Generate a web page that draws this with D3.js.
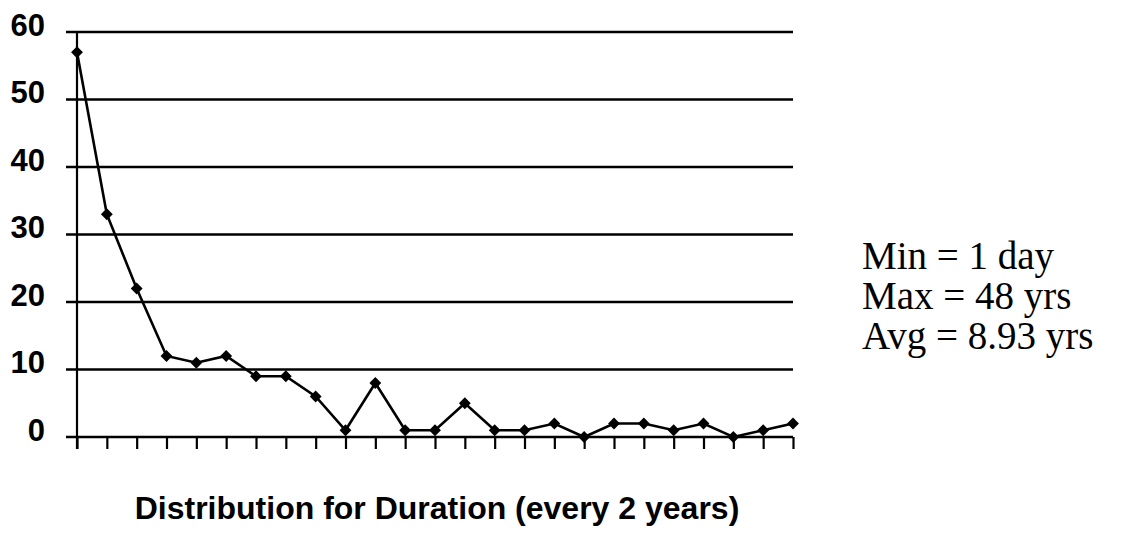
<!DOCTYPE html>
<html>
<head>
<meta charset="utf-8">
<script src="https://cdn.jsdelivr.net/npm/d3@7"></script>
<style>
  body { margin: 0; background: #fff; }
  svg { display: block; }
</style>
</head>
<body>
<svg id="chart" width="1134" height="553"></svg>
<script>
// counts per 2-year duration bucket
var counts = [57, 33, 22, 12, 11, 12, 9, 9, 6, 1, 8, 1, 1, 5, 1, 1, 2, 0, 2, 2, 1, 2, 0, 1, 2];
var yTicks = [0, 10, 20, 30, 40, 50, 60];
var statLines = ["Min = 1 day", "Max = 48 yrs", "Avg = 8.93 yrs"];
var title = "Distribution for Duration (every 2 years)";

var svg = d3.select("#chart"),
    margin = {top: 32, left: 77, right: 341, bottom: 116},
    width = +svg.attr("width") - margin.left - margin.right,
    height = +svg.attr("height") - margin.top - margin.bottom;

var x = d3.scaleLinear().domain([0, counts.length - 1]).range([0, width]);
var y = d3.scaleLinear().domain([0, 60]).range([height, 0]);

var g = svg.append("g")
    .attr("transform", "translate(" + margin.left + "," + margin.top + ")");

// horizontal gridlines (incl. the baseline)
g.selectAll("line.grid")
  .data(yTicks).enter()
  .append("line")
    .attr("class", "grid")
    .attr("x1", -11).attr("x2", width)
    .attr("y1", function(d){ return y(d); })
    .attr("y2", function(d){ return y(d); })
    .attr("stroke", "#000")
    .attr("stroke-width", 2.4);

// y axis
var yAxis = d3.axisLeft(y).tickValues(yTicks).tickSize(0).tickPadding(32);
g.append("g")
    .call(yAxis)
    .call(function(s){
      s.select(".domain").remove();
      s.selectAll("text")
        .attr("dy", "0.1em")
        .attr("font-family", "Liberation Sans, Arial, sans-serif")
        .attr("font-weight", "bold")
        .attr("font-size", 31)
        .attr("fill", "#000");
    });

g.append("line")
    .attr("x1", 0).attr("x2", 0)
    .attr("y1", 0).attr("y2", height + 12)
    .attr("stroke", "#000").attr("stroke-width", 2.2);

// x axis ticks (no labels)
var xAxis = d3.axisBottom(x).tickValues(d3.range(counts.length))
    .tickSize(12).tickFormat("");
g.append("g")
    .attr("transform", "translate(0," + height + ")")
    .call(xAxis)
    .call(function(s){
      s.select(".domain").remove();
      s.selectAll("line").attr("stroke", "#000").attr("stroke-width", 2.2);
    });

// the series
var line = d3.line()
    .x(function(d, i){ return x(i); })
    .y(function(d){ return y(d); });

g.append("path")
    .datum(counts)
    .attr("d", line)
    .attr("fill", "none")
    .attr("stroke", "#000")
    .attr("stroke-width", 2.6);

g.selectAll("path.pt")
  .data(counts).enter()
  .append("path")
    .attr("class", "pt")
    .attr("d", d3.symbol().type(d3.symbolSquare).size(70))
    .attr("transform", function(d, i){ return "translate(" + x(i) + "," + y(d) + ") rotate(45)"; })
    .attr("fill", "#000");

// stats text
svg.append("g")
  .selectAll("text")
  .data(statLines).enter()
  .append("text")
    .attr("x", 862)
    .attr("y", function(d, i){ return 269 + i * 40; })
    .attr("font-family", "Liberation Serif, Times New Roman, serif")
    .attr("font-size", 39)
    .attr("fill", "#000")
    .text(function(d){ return d; });

// title
svg.append("text")
    .attr("x", 437)
    .attr("y", 519)
    .attr("text-anchor", "middle")
    .attr("font-family", "Liberation Sans, Arial, sans-serif")
    .attr("font-weight", "bold")
    .attr("font-size", 32)
    .attr("fill", "#000")
    .text(title);
</script>
</body>
</html>
